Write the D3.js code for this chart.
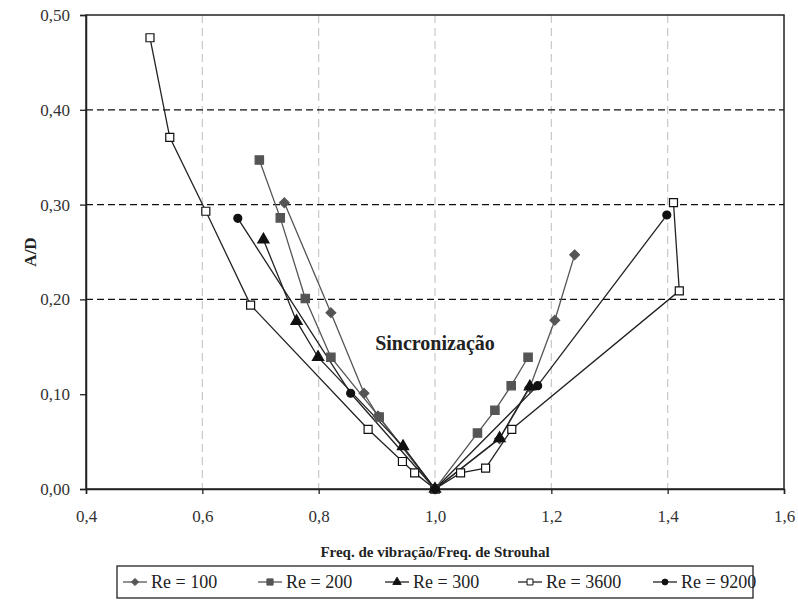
<!DOCTYPE html>
<html><head><meta charset="utf-8">
<script src="https://cdn.jsdelivr.net/npm/d3@7"></script>
<style>body{margin:0;background:#fff}svg{display:block}
svg text{font-family:"Liberation Serif","Times New Roman","DejaVu Serif",serif !important}</style>
</head><body>
<svg id="c" width="798" height="607"></svg>
<script>
const xTicks=[0.4,0.6,0.8,1.0,1.2,1.4,1.6];
const yTicks=[0,0.1,0.2,0.3,0.4,0.5];
const hGrid=[0.2,0.3,0.4];
const vGrid=[0.6,0.8,1.0,1.2,1.4];
const seriesNames=["Re = 100","Re = 200","Re = 300","Re = 3600","Re = 9200"];
const re100x=[0.741,0.821,0.878,0.902,1.0,1.111,1.163,1.206,1.240];
const re100y=[0.302,0.186,0.101,0.077,0.0,0.053,0.107,0.178,0.247];
const re200x=[0.698,0.734,0.777,0.821,0.904,1.0,1.073,1.103,1.131,1.160];
const re200y=[0.347,0.286,0.201,0.139,0.076,0.0,0.059,0.083,0.109,0.139];
const re300x=[0.705,0.762,0.799,0.945,1.0,1.111,1.163];
const re300y=[0.263,0.177,0.139,0.045,0.0,0.0535,0.108];
const re3600x=[0.510,0.544,0.606,0.683,0.885,0.944,0.965,1.0,1.044,1.087,1.132,1.420,1.410];
const re3600y=[0.476,0.371,0.293,0.194,0.063,0.029,0.017,0.0,0.017,0.022,0.063,0.209,0.302];
const re9200x=[0.661,0.855,1.0,1.1765,1.3985];
const re9200y=[0.2855,0.101,0.0,0.109,0.289];

const svg=d3.select("#c");
const L=86,R=784,T=15,B=489;
const x=d3.scaleLinear().domain([0.4,1.6]).range([L,R]);
const y=d3.scaleLinear().domain([0,0.5]).range([B,T]);

svg.append("g").selectAll("line").data(vGrid).join("line")
  .attr("x1",d=>x(d)).attr("x2",d=>x(d)).attr("y1",T).attr("y2",B)
  .attr("stroke","#c8c8c8").attr("stroke-width",1.2).attr("stroke-dasharray","8,5");
svg.append("g").selectAll("line").data(hGrid).join("line")
  .attr("x1",L).attr("x2",R).attr("y1",d=>y(d)).attr("y2",d=>y(d))
  .attr("stroke","#111").attr("stroke-width",1.3).attr("stroke-dasharray","7,4");

svg.append("rect").attr("x",L).attr("y",T).attr("width",R-L).attr("height",B-T)
  .attr("fill","none").attr("stroke","#222").attr("stroke-width",1.5);

const fmt=d=>d3.format(".1f")(d).replace(".",",");
const fmtY=d=>d3.format(".2f")(d).replace(".",",");
const xa=svg.append("g").attr("transform",`translate(0,${B})`)
  .call(d3.axisBottom(x).tickValues(xTicks).tickFormat(fmt).tickSize(5).tickPadding(16));
const ya=svg.append("g").attr("transform",`translate(${L},0)`)
  .call(d3.axisLeft(y).tickValues(yTicks).tickFormat(fmtY).tickSize(6).tickPadding(10));
[xa,ya].forEach(a=>{
  a.select(".domain").attr("stroke","#222").attr("stroke-width",1.5);
  a.selectAll(".tick line").attr("stroke","#222").attr("stroke-width",1.3);
  a.selectAll("text").attr("font-size",17).attr("fill","#333");
});

svg.append("text").attr("x",435).attr("y",557).attr("text-anchor","middle")
  .attr("font-weight","bold").attr("font-size",15).attr("fill","#222")
  .text("Freq. de vibração/Freq. de Strouhal");
svg.append("text").attr("transform","translate(36,252) rotate(-90)").attr("text-anchor","middle")
  .attr("font-weight","bold").attr("font-size",17).attr("fill","#222")
  .text("A/D");
svg.append("text").attr("x",435).attr("y",350).attr("text-anchor","middle")
  .attr("font-weight","bold").attr("font-size",20).attr("fill","#222")
  .text("Sincronização");

const series=[
  {name:seriesNames[0],xs:re100x,ys:re100y,shape:d3.symbolDiamond2,size:60,fill:"#555",stroke:"#555",line:"#555"},
  {name:seriesNames[1],xs:re200x,ys:re200y,shape:d3.symbolSquare,size:70,fill:"#555",stroke:"#555",line:"#555"},
  {name:seriesNames[2],xs:re300x,ys:re300y,shape:d3.symbolTriangle,size:55,fill:"#111",stroke:"#111",line:"#222"},
  {name:seriesNames[3],xs:re3600x,ys:re3600y,shape:d3.symbolSquare,size:64,fill:"#fff",stroke:"#111",line:"#222"},
  {name:seriesNames[4],xs:re9200x,ys:re9200y,shape:d3.symbolCircle,size:50,fill:"#111",stroke:"#111",line:"#222"}
];
const line=d3.line().x(d=>x(d[0])).y(d=>y(d[1]));
series.forEach(s=>{
  const pts=s.xs.map((v,i)=>[v,s.ys[i]]);
  svg.append("path").datum(pts).attr("d",line).attr("fill","none")
    .attr("stroke",s.line).attr("stroke-width",1.3);
});
series.forEach(s=>{
  const pts=s.xs.map((v,i)=>[v,s.ys[i]]);
  svg.append("g").selectAll("path").data(pts).join("path")
    .attr("transform",d=>`translate(${x(d[0])},${y(d[1])})`)
    .attr("d",d3.symbol().type(s.shape).size(s.size))
    .attr("fill",s.fill).attr("stroke",s.stroke).attr("stroke-width",1.2);
});

const lg=svg.append("g");
lg.append("rect").attr("x",117).attr("y",566).attr("width",636).attr("height",32)
  .attr("fill","#fff").attr("stroke","#222").attr("stroke-width",1.3);
const lx=[123,258,385,518,653];
series.forEach((s,i)=>{
  const g=lg.append("g").attr("transform",`translate(${lx[i]},582)`);
  g.append("line").attr("x1",0).attr("x2",24).attr("y1",0).attr("y2",0).attr("stroke",s.line).attr("stroke-width",1.3);
  g.append("path").attr("transform","translate(12,0)").attr("d",d3.symbol().type(s.shape).size(s.size*0.55))
    .attr("fill",s.fill).attr("stroke",s.stroke).attr("stroke-width",1);
  g.append("text").attr("x",28).attr("y",6).attr("font-size",18).attr("fill","#222").text(s.name);
});
</script>
</body></html>
